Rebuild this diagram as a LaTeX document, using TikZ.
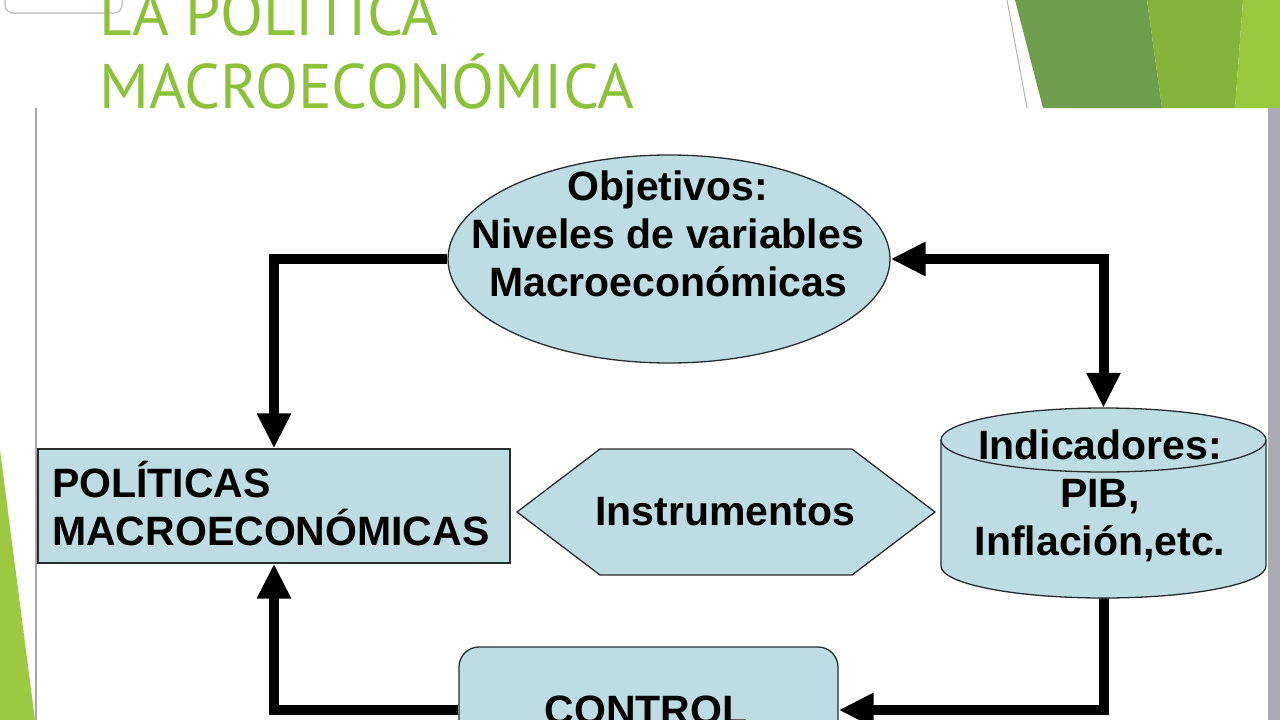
\documentclass[tikz,border=0pt]{standalone}
\usepackage{fontspec}
\setmainfont{Liberation Sans}
\newfontfamily\titlefont{PT Sans}
\usetikzlibrary{arrows.meta,shapes.geometric,backgrounds}
\definecolor{boxfill}{RGB}{189,221,227}
\definecolor{boxline}{RGB}{40,45,50}
\definecolor{titlegreen}{RGB}{140,194,58}
\definecolor{gdark}{RGB}{110,157,77}
\definecolor{gmid}{RGB}{132,180,58}
\definecolor{glight}{RGB}{152,200,62}
\definecolor{gleft}{RGB}{157,200,66}
\definecolor{bandgray}{RGB}{170,170,178}
\begin{document}
\begin{tikzpicture}[x=1pt,y=-1pt,
  box/.style={draw=boxline, line width=1.3pt, fill=boxfill},
  lbl/.style={font=\fontsize{41}{48}\selectfont\bfseries, align=center, inner sep=0pt},
  ttl/.style={anchor=base west, inner sep=0pt, text=titlegreen, font=\titlefont\fontsize{63}{63}\selectfont},
  conn/.style={line width=10pt, -{Triangle[length=35pt,width=32pt]}},
  conn2/.style={line width=10pt, {Triangle[length=35pt,width=32pt]}-{Triangle[length=35pt,width=32pt]}},
  ]
\clip (0,0) rectangle (1280,720);
\begin{pgfonlayer}{background}
\fill[white] (0,0) rectangle (1280,720);
% slide decorations
\fill[gdark] (1015,0) -- (1043,108) -- (1162,108) -- (1147,0) -- cycle;
\fill[gmid] (1147,0) -- (1162,108) -- (1235,108) -- (1243,0) -- cycle;
\fill[glight] (1243,0) -- (1235,108) -- (1280,108) -- (1280,0) -- cycle;
\draw[gray!60, line width=1pt] (1007,0) -- (1027,108);
\fill[gleft] (0,450) -- (35,720) -- (0,720) -- cycle;
\draw[gray!70, line width=2pt] (36,108) -- (36,720);
\fill[bandgray] (1268,108) rectangle (1280,720);
\draw[gray!45, line width=1.5pt, rounded corners=8pt] (5,-20) rectangle (122,13);
\end{pgfonlayer}

% title
\node[ttl] (t1) at (99,35) {LA POLÍTICA};
\node[ttl] (t2) at (99,108) {MACROECONÓMICA};

% objectives ellipse
\node[box, ellipse, minimum width=442, minimum height=208, inner sep=0pt] (obj) at (669,259) {};
\node[lbl] (objtext) at (668,234) {Objetivos:\\Niveles de variables\\Macroeconómicas};

% policies rectangle
\node[box, rectangle, minimum width=472, minimum height=114, inner sep=0pt] (pol) at (274,506) {};
\node[lbl, align=left, anchor=west] (poltext) at (52,503.5) {POLÍTICAS\\MACROECONÓMICAS};

% instruments hexagon
\draw[box] (517,512) -- (600,449) -- (852,449) -- (935,512) -- (852,575) -- (600,575) -- cycle;
\node[lbl] (ins) at (725,512) {Instrumentos};

% indicators cylinder
\draw[box] (941,440) -- (941,566) arc[start angle=180, end angle=0, x radius=162.5, y radius=32]
  -- (1266,440) arc[start angle=0, end angle=-180, x radius=162.5, y radius=32] -- cycle;
\draw[draw=boxline, line width=1.3pt] (941,440) arc[start angle=180, end angle=0, x radius=162.5, y radius=32];
\node[minimum width=325, minimum height=190, inner sep=0pt] (cyl) at (1103.5,503) {};
\node[lbl] (cyltext) at (1100,496) {Indicadores:\\PIB,\\Inflación,etc.};

% control box
\node[box, rounded corners=20pt, minimum width=379, minimum height=126, inner sep=0pt] (ctl) at (648.5,710) {};
\node[lbl] (ctltext) at (646,710) {CONTROL};

% connectors
\begin{pgfonlayer}{background}
\draw[conn] (obj.west) -| (pol.north);
\draw[conn2] (obj.east) -| (cyl.north);
\draw[conn] (cyl.south) |- (ctl.east);
\draw[conn] (ctl.west) -| (pol.south);
\end{pgfonlayer}
\end{tikzpicture}
\end{document}
